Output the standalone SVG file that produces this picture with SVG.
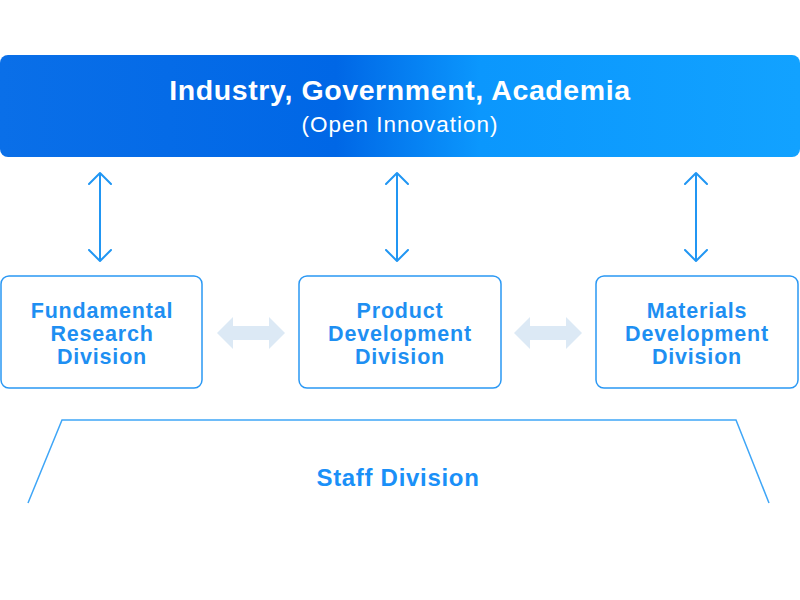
<svg xmlns="http://www.w3.org/2000/svg" width="800" height="600" viewBox="0 0 800 600">
<defs>
<linearGradient id="g" x1="0" y1="0" x2="1" y2="0">
<stop offset="0" stop-color="#0a6fe8"/>
<stop offset="0.42" stop-color="#0067e6"/>
<stop offset="0.6" stop-color="#0b97fd"/>
<stop offset="1" stop-color="#12a2ff"/>
</linearGradient>
<marker id="ah" viewBox="0 0 24 24" refX="12" refY="12" markerWidth="24" markerHeight="24" markerUnits="userSpaceOnUse" orient="auto-start-reverse">
<path d="M1,1 L12,12 L1,23" fill="none" stroke="#2196f3" stroke-width="2" stroke-linecap="round" stroke-linejoin="round"/>
</marker>
<path id="fat" d="M0,0 L16,-16 L16,-7 L52,-7 L52,-16 L68,0 L52,16 L52,7 L16,7 L16,16 Z" fill="#dce9f5"/>
</defs>
<style>
.box{fill:#fff;stroke:#2a98f4;stroke-width:1.5}
.bt{font-family:"Liberation Sans",Arial,sans-serif;font-weight:bold;font-size:21.5px;letter-spacing:0.8px;fill:#1e8ff2;text-anchor:middle}
.conn{stroke:#2196f3;stroke-width:2;fill:none}
</style>
<g id="top">
<rect x="0" y="55" width="800" height="102" rx="8" fill="url(#g)"/>
<text x="400" y="100" font-family="'Liberation Sans',Arial,sans-serif" font-weight="bold" font-size="28.5" letter-spacing="0.6" fill="#fff" text-anchor="middle">Industry, Government, Academia</text>
<text x="400" y="132" font-family="'Liberation Sans',Arial,sans-serif" font-size="22.5" letter-spacing="1" fill="#fff" text-anchor="middle">(Open Innovation)</text>
</g>
<g id="connectors">
<line class="conn" x1="100" y1="173" x2="100" y2="261" marker-start="url(#ah)" marker-end="url(#ah)"/>
<line class="conn" x1="397" y1="173" x2="397" y2="261" marker-start="url(#ah)" marker-end="url(#ah)"/>
<line class="conn" x1="696" y1="173" x2="696" y2="261" marker-start="url(#ah)" marker-end="url(#ah)"/>
<use href="#fat" x="217" y="333"/>
<use href="#fat" x="514" y="333"/>
</g>
<g id="fundamental">
<rect class="box" x="1" y="276" width="201" height="112" rx="8"/>
<text class="bt" x="102" y="318">Fundamental</text>
<text class="bt" x="102" y="341">Research</text>
<text class="bt" x="102" y="364">Division</text>
</g>
<g id="product">
<rect class="box" x="299" y="276" width="202" height="112" rx="8"/>
<text class="bt" x="400" y="318">Product</text>
<text class="bt" x="400" y="341">Development</text>
<text class="bt" x="400" y="364">Division</text>
</g>
<g id="materials">
<rect class="box" x="596" y="276" width="202" height="112" rx="8"/>
<text class="bt" x="697" y="318">Materials</text>
<text class="bt" x="697" y="341">Development</text>
<text class="bt" x="697" y="364">Division</text>
</g>
<g id="staff">
<polyline points="28,503 62,420 736,420 769,503" fill="none" stroke="#3fa6f7" stroke-width="1.5"/>
<text x="398" y="486" font-family="'Liberation Sans',Arial,sans-serif" font-weight="bold" font-size="24" letter-spacing="0.7" fill="#1a90f8" text-anchor="middle">Staff Division</text>
</g>
</svg>
